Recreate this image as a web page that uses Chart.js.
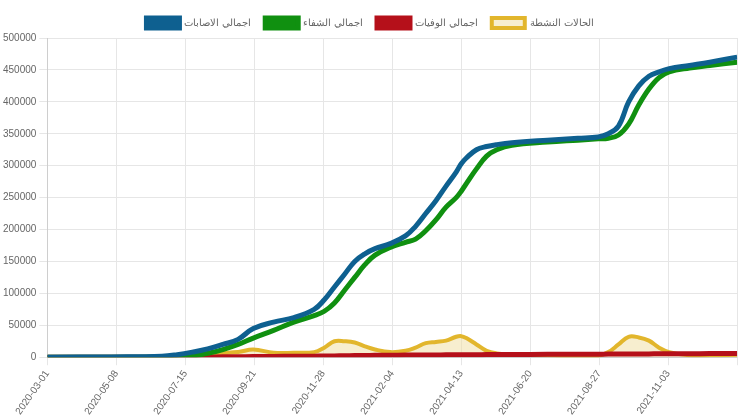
<!DOCTYPE html>
<html>
<head>
<meta charset="utf-8">
<script src="https://cdn.jsdelivr.net/npm/chart.js@4"></script>
<style>body{margin:0;background:#fff}#c{width:750px;height:420px}</style>
</head>
<body>
<div id="c"><canvas id="grafica"></canvas></div>
<script>
// dias desde 2020-03-01 (muestras)
var dias = [0,63,113,128,143,158,173,188,203,223,243,263,273,283,293,303,313,323,338,353,363,373,383,393,403,408,413,423,433,443,458,493,523,543,553,563,573,583,593,603,613,633,653,680];
var casos = [0,500,1500,4000,8000,13000,20000,28000,45000,55000,62000,75000,90000,110000,130000,150000,162000,170000,178000,190000,205000,225000,245000,268000,290000,303000,312000,325000,330000,333000,336000,340000,343000,345000,350000,362000,400000,425000,440000,447000,452000,457000,462000,470000];
var recuperados = [0,0,200,800,2000,6000,12000,20000,30000,42000,55000,65000,72000,85000,105000,125000,145000,160000,172000,180000,185000,198000,215000,235000,250000,260000,272000,295000,315000,325000,332000,337000,340000,342000,343000,348000,365000,395000,420000,438000,447000,453000,457000,462000];
var muertes = [0,0,30,100,250,400,600,800,1000,1200,1500,1700,1900,2100,2300,2500,2700,2900,3100,3300,3400,3500,3600,3700,3800,3850,3900,4000,4100,4200,4300,4500,4700,4800,4850,4900,5000,5100,5200,5300,5400,5500,5700,5900];
var activos = [0,0,500,2500,5000,6500,7000,8000,12000,7000,7000,8000,15000,25000,25000,23000,17000,12000,8000,10000,15000,22000,24000,26000,32000,33000,30000,20000,10000,6000,4000,3000,1000,2000,8000,20000,32000,31000,26000,15000,8000,3000,3000,4000];
var etiquetas = ["اجمالي الاصابات", "اجمالي الشفاء", "اجمالي الوفيات", "الحالات النشطة"];

function puntos(vals) {
    return dias.map(function (d, i) { return { x: d, y: vals[i] }; });
}
function fecha(d) {
    var f = new Date(Date.UTC(2020, 2, 1) + d * 86400000);
    return f.toISOString().slice(0, 10);
}

Chart.defaults.font.family = "'Liberation Sans', Arial, sans-serif";
Chart.defaults.font.size = 10;
Chart.defaults.color = "#666";

new Chart(document.getElementById("grafica"), {
    type: 'line',
    data: {
        datasets: [
            { label: etiquetas[0], data: puntos(casos), borderColor: "#0e6090", backgroundColor: "#0e6090", borderWidth: 5, fill: false },
            { label: etiquetas[1], data: puntos(recuperados), borderColor: "#109010", backgroundColor: "#109010", borderWidth: 5, fill: false },
            { label: etiquetas[2], data: puntos(muertes), borderColor: "#b5101a", backgroundColor: "#b5101a", borderWidth: 5, fill: false },
            { label: etiquetas[3], data: puntos(activos), borderColor: "#e2b62c", backgroundColor: "rgba(240,222,160,0.5)", borderWidth: 4, fill: true, order: 5 }
        ]
    },
    options: {
        responsive: true,
        maintainAspectRatio: false,
        animation: false,
        elements: { point: { radius: 0 }, line: { tension: 0.4 } },
        layout: { padding: { right: 10, top: 4 } },
        plugins: {
            legend: { labels: { boxWidth: 33, boxHeight: 10, color: "#666", padding: 14 } },
            tooltip: { enabled: false }
        },
        scales: {
            x: {
                type: 'linear', min: 0, max: 680,
                grid: { color: "#e6e6e6" },
                ticks: { stepSize: 68, maxRotation: 55, minRotation: 55, callback: function (v) { return v % 68 === 0 && v < 680 ? fecha(v) : ''; } }
            },
            y: {
                min: 0, max: 500000,
                grid: { color: "#e6e6e6" },
                ticks: { stepSize: 50000, callback: function (v) { return String(v); } }
            }
        }
    }
});
</script>
</body>
</html>
